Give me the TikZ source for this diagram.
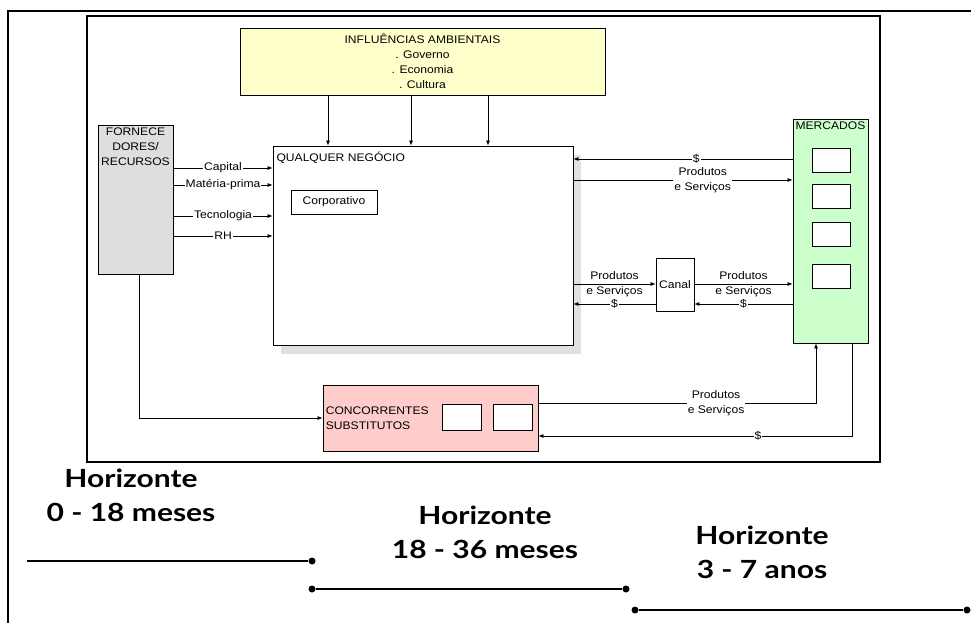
\documentclass[tikz,border=0pt]{standalone}
\usepackage{fontspec}
\setmainfont[FakeStretch=1.1]{Liberation Sans}
\newfontfamily\horfont[FakeStretch=1.2]{Lato}
\usetikzlibrary{arrows.meta,positioning,calc,shadows}
\definecolor{amarelo}{HTML}{FFFFCC}
\definecolor{rosa}{HTML}{FFCCCC}
\definecolor{verde}{HTML}{CCFFCC}
\definecolor{cinza}{HTML}{DEDEDE}
\definecolor{sombracor}{HTML}{E0E0E0}
\tikzset{
  caixa/.style={draw, line width=0.8pt, inner sep=1pt},
  sombra/.style={drop shadow={shadow xshift=8pt, shadow yshift=-9pt, fill=sombracor, opacity=1}},
  fluxo/.style={-{Latex[length=5pt,width=4pt]}, line width=0.7pt},
  rot/.style={fill=white, inner sep=1pt, align=center},
  rotlivre/.style={inner sep=0pt, align=center},
  hor/.style={font=\horfont\bfseries\fontsize{25}{34}\selectfont, align=center},
  ponto/.style={circle, fill, inner sep=0pt, minimum size=7pt},
  linha/.style={line width=2pt}
}

\begin{document}
\begin{tikzpicture}[x=1pt, y=-1pt, font=\fontsize{11}{15}\selectfont]
  \useasboundingbox (0,0) rectangle (971,623);
  \draw[line width=2pt] (8,623) -- (8,11) -- (971,11);
  \draw[line width=2.5pt] (87,16) rectangle (880,462);

  \node[caixa, fill=amarelo, minimum width=365pt, minimum height=67pt, align=center] (infl) at (422.5,61.5) {INFLUÊNCIAS AMBIENTAIS\\. Governo\\. Economia\\. Cultura};
  \node[caixa, fill=white, sombra, minimum width=300pt, minimum height=199pt] (neg) at (423,245.5) {};
  \node[anchor=base west] (negt) at (273,161) {QUALQUER NEGÓCIO};
  \node[caixa, minimum width=86pt, minimum height=24pt] (corp) at (334,202) {Corporativo};
  \node[caixa, fill=cinza, minimum width=75pt, minimum height=149pt] (forn) at (135.5,199.5) {};
  \node[anchor=north, align=center] (fornt) at (forn.north) {FORNECE\\DORES/\\RECURSOS};
  \node[caixa, fill=verde, minimum width=75pt, minimum height=224pt] (merc) at (830.5,231) {};
  \node[anchor=north] (merct) at (merc.north) {MERCADOS};
  \foreach \y [count=\i] in {160,196,234.5,276}
    \node[caixa, fill=white, minimum width=38pt, minimum height=24pt] (m\i) at (831,\y) {};
  \node[caixa, minimum width=38pt, minimum height=53pt] (canal) at (675,284.5) {Canal};
  \node[caixa, fill=rosa, minimum width=215pt, minimum height=66pt] (conc) at (430.5,418) {};
  \node[anchor=west, align=left, inner sep=3pt] (conct) at (conc.west) {CONCORRENTES\\SUBSTITUTOS};
  \node[caixa, fill=white, minimum width=39pt, minimum height=26pt] (c1) at (461.5,417) {};
  \node[caixa, fill=white, minimum width=39pt, minimum height=26pt] (c2) at (512.5,417) {};

  \foreach \x in {328,411,488}
    \draw[fluxo] (\x,0 |- infl.south) -- (\x,0 |- neg.north);
  \foreach \y/\t in {168/Capital,185/Matéria-prima,216/Tecnologia,236/RH}
    \draw[fluxo] (forn.east |- 0,\y) -- node[rot] {\t} (neg.west |- 0,\y);

  \draw[fluxo] (merc.west |- 0,159) -- node[rot, pos=0.44] {\$} (neg.east |- 0,159);
  \draw[fluxo] (neg.east |- 0,180) -- node[rot, pos=0.59] {Produtos\\e Serviços} (merc.west |- 0,180);
  \draw[fluxo] (neg.east |- 0,284) -- node[rotlivre] {Produtos\\e Serviços} (canal.west |- 0,284);
  \draw[fluxo] (canal.west |- 0,304) -- node[rot] {\$} (neg.east |- 0,304);
  \draw[fluxo] (canal.east |- 0,284) -- node[rotlivre] {Produtos\\e Serviços} (merc.west |- 0,284);
  \draw[fluxo] (merc.west |- 0,304) -- node[rot] {\$} (canal.east |- 0,304);

  \draw[fluxo] (conc.east |- 0,403) -| node[rot, pos=0.32] {Produtos\\e Serviços} (816,0 |- merc.south);
  \draw[fluxo] (852,0 |- merc.south) |- node[rot, pos=0.65] {\$} (conc.east |- 0,436);
  \draw[fluxo] (139,0 |- forn.south) |- (conc.west);

  \node[hor] (h1) at (131,495) {Horizonte\\0 - 18 meses};
  \node[hor] (h2) at (485,532) {Horizonte\\18 - 36 meses};
  \node[hor] (h3) at (762,552) {Horizonte\\3 - 7 anos};

  \coordinate (t0) at (27,561);
  \node[ponto] (p1) at (312,561) {};
  \node[ponto] (p2) at (312,589) {};
  \node[ponto] (p3) at (626,589) {};
  \node[ponto] (p4) at (635,610) {};
  \node[ponto] (p5) at (967,610) {};
  \draw[linha] (t0) -- (p1);
  \draw[linha] (p2) -- (p3);
  \draw[linha] (p4) -- (p5);
\end{tikzpicture}
\end{document}
